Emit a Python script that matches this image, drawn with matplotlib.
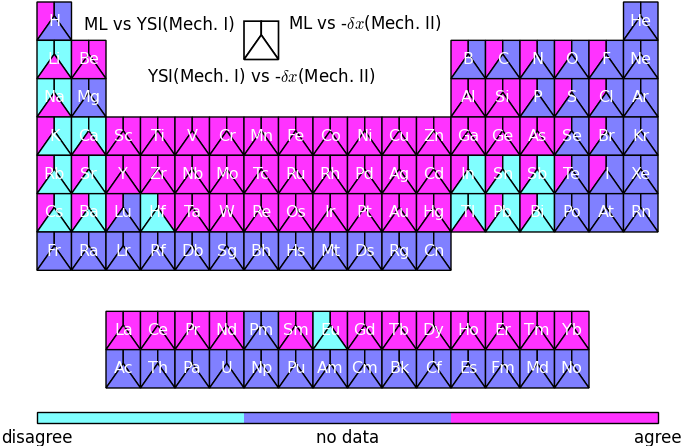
import matplotlib
matplotlib.use("Agg")
import matplotlib.pyplot as plt
from matplotlib.patches import Polygon
from matplotlib.colors import ListedColormap, BoundaryNorm
from matplotlib.cm import ScalarMappable

plt.rcParams["mathtext.fontset"] = "cm"

# periodic table layout, '.' is an empty slot
table_rows = [
    "H . . . . . . . . . . . . . . . . He",
    "Li Be . . . . . . . . . . B C N O F Ne",
    "Na Mg . . . . . . . . . . Al Si P S Cl Ar",
    "K Ca Sc Ti V Cr Mn Fe Co Ni Cu Zn Ga Ge As Se Br Kr",
    "Rb Sr Y Zr Nb Mo Tc Ru Rh Pd Ag Cd In Sn Sb Te I Xe",
    "Cs Ba Lu Hf Ta W Re Os Ir Pt Au Hg Tl Pb Bi Po At Rn",
    "Fr Ra Lr Rf Db Sg Bh Hs Mt Ds Rg Cn",
]
lanthanides = "La Ce Pr Nd Pm Sm Eu Gd Tb Dy Ho Er Tm Yb".split()
actinides = "Ac Th Pa U Np Pu Am Cm Bk Cf Es Fm Md No".split()

transition = ("Sc Ti V Cr Mn Fe Co Ni Cu Zn Y Zr Nb Mo Tc Ru Rh Pd Ag Cd "
              "Ta W Re Os Ir Pt Au Hg").split()
lanth_agree = "La Ce Pr Nd Sm Gd Tb Dy Ho Er Tm Yb".split()

# ML vs YSI (Mech. I) -> left part of each cell
ml_ysi_agree = ("H Be K Rb Sr Cs Ba Lu B C N O F Al Si P S Cl Ga Ge As Se Br "
                "In Sn Sb Te I Pb Bi").split() + transition + lanth_agree
ml_ysi_disagree = "Li Na Ca Hf Tl Eu".split()

# ML vs -dx (Mech. II) -> right part
ml_dx_agree = "Be Hf Al Si Ga Ge As Eu".split() + transition + lanth_agree
ml_dx_disagree = "Li Na K Ca Rb Sr Cs Ba In Sn Sb Tl Pb Bi".split()

# YSI (Mech. I) vs -dx (Mech. II) -> bottom triangle
ysi_dx_agree = "Li Be Na Ca Al Si Ga Ge As Tl".split() + transition + lanth_agree
ysi_dx_disagree = "K Rb Sr Cs Ba Hf In Sn Sb Pb Bi Eu".split()

colors = ["#80ffff", "#8080ff", "#ff33ff"]   # disagree, no data, agree
cb_labels = ["disagree", "no data", "agree"]


def status(sym, agree, disagree):
    if sym in agree:
        return colors[2]
    if sym in disagree:
        return colors[0]
    return colors[1]


APEX = 0.36  # where the vertical line meets the triangle (from top)


def cell(ax, x, y, cl, cr, cb, lw=1.0):
    ax_ = (x + 0.5, y + APEX)
    left = [(x, y), (x + 0.5, y), ax_, (x, y + 1)]
    right = [(x + 0.5, y), (x + 1, y), (x + 1, y + 1), ax_]
    bottom = [(x, y + 1), ax_, (x + 1, y + 1)]
    for pts, c in [(left, cl), (right, cr), (bottom, cb)]:
        ax.add_patch(Polygon(pts, closed=True, facecolor=c, edgecolor="black",
                             linewidth=lw, joinstyle="miter"))


fig = plt.figure(figsize=(6.85, 4.46), dpi=100)
ax = fig.add_axes([0, 0, 1, 1])
col_px, row_px = 34.5, 38.33
ax.set_xlim(-37 / col_px, (685 - 37) / col_px)
ax.set_ylim((446 - 2) / row_px, -2 / row_px)
ax.axis("off")

positions = []
for r, line in enumerate(table_rows):
    for c, sym in enumerate(line.split()):
        if sym != ".":
            positions.append((sym, c, r))
for i, sym in enumerate(lanthanides):
    positions.append((sym, i + 2, 8.07))
for i, sym in enumerate(actinides):
    positions.append((sym, i + 2, 9.07))

for sym, c, r in positions:
    cell(ax, c, r,
         status(sym, ml_ysi_agree, ml_ysi_disagree),
         status(sym, ml_dx_agree, ml_dx_disagree),
         status(sym, ysi_dx_agree, ysi_dx_disagree))
    ax.text(c + 0.5, r + 0.5, sym, color="white", fontsize=11.5,
            ha="center", va="center", zorder=5)

# legend icon
cell(ax, 6, 0.5, "white", "white", "white", lw=1.2)
ax.text(5.72, 0.6, "ML vs YSI(Mech. I)", fontsize=12, ha="right", va="center")
ax.text(7.28, 0.56, r"ML vs -$\delta x$(Mech. II)", fontsize=12,
        ha="left", va="center")
ax.text(6.5, 1.92, r"YSI(Mech. I) vs -$\delta x$(Mech. II)", fontsize=12,
        ha="center", va="center")

# colorbar
cmap = ListedColormap(colors)
norm = BoundaryNorm([0, 1 / 3, 2 / 3, 1], 3)
cax = fig.add_axes([37 / 685, 1 - 423 / 446, 621 / 685, 11 / 446])
cb = fig.colorbar(ScalarMappable(norm=norm, cmap=cmap), cax=cax,
                  orientation="horizontal")
cb.set_ticks([0, 0.5, 1])
cb.set_ticklabels(cb_labels)
cb.ax.minorticks_off()
cb.ax.tick_params(which="both", length=0, labelsize=12, pad=4)
cb.outline.set_linewidth(1.0)

fig.savefig("out.png", dpi=100)
